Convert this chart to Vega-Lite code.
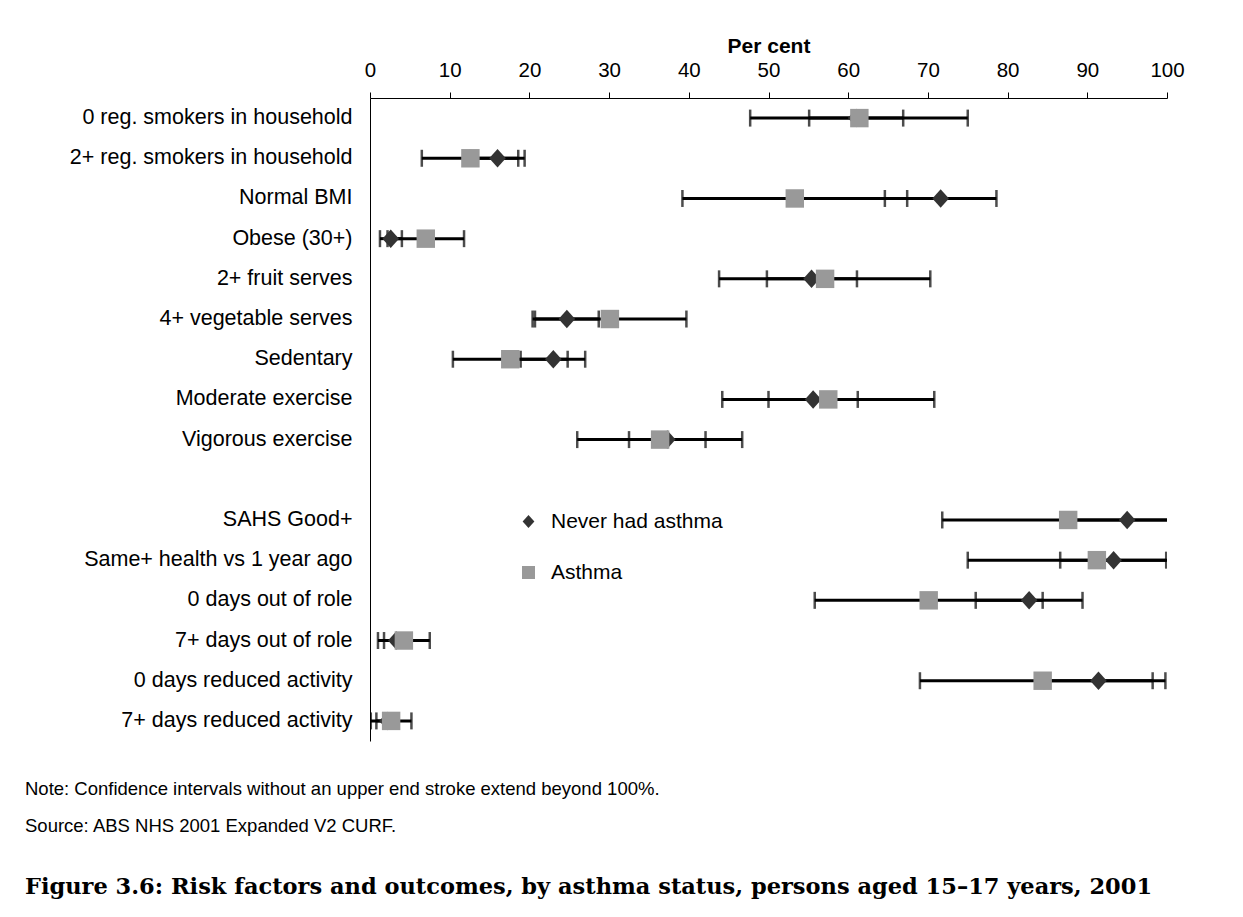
{
  "$schema": "https://vega.github.io/schema/vega-lite/v6.json",
  "width": 797,
  "height": 643,
  "autosize": {"type": "none"},
  "padding": {"left": 370, "top": 98, "right": 76, "bottom": 176},
  "background": "white",
  "config": {"font": "Liberation Sans", "view": {"stroke": null}},
  "title": {
    "text": ["Note: Confidence intervals without an upper end stroke extend beyond 100%.", "Source: ABS NHS 2001 Expanded V2 CURF."],
    "orient": "bottom",
    "anchor": "start",
    "frame": "group",
    "dx": -345,
    "offset": 39,
    "font": "Liberation Sans",
    "fontSize": 18.5,
    "fontWeight": "normal",
    "color": "black",
    "lineHeight": 37,
    "subtitle": "Figure 3.6: Risk factors and outcomes, by asthma status, persons aged 15–17 years, 2001",
    "subtitleFont": "DejaVu Serif",
    "subtitleFontWeight": "bold",
    "subtitleFontSize": 22.5,
    "subtitleColor": "black",
    "subtitlePadding": 40
  },
  "data": {
    "values": [
      {"cat": "0 reg. smokers in household", "group": "Never had asthma", "v": 61.0, "lo": 55.1, "hi": 66.9},
      {"cat": "2+ reg. smokers in household", "group": "Never had asthma", "v": 16.0, "lo": 12.6, "hi": 19.4},
      {"cat": "Normal BMI", "group": "Never had asthma", "v": 71.6, "lo": 64.6, "hi": 78.6},
      {"cat": "Obese (30+)", "group": "Never had asthma", "v": 2.6, "lo": 1.25, "hi": 4.0},
      {"cat": "2+ fruit serves", "group": "Never had asthma", "v": 55.4, "lo": 49.8, "hi": 61.1},
      {"cat": "4+ vegetable serves", "group": "Never had asthma", "v": 24.7, "lo": 20.7, "hi": 28.7},
      {"cat": "Sedentary", "group": "Never had asthma", "v": 23.0, "lo": 18.9, "hi": 27.0},
      {"cat": "Moderate exercise", "group": "Never had asthma", "v": 55.6, "lo": 50.0, "hi": 61.2},
      {"cat": "Vigorous exercise", "group": "Never had asthma", "v": 37.3, "lo": 32.5, "hi": 42.1},
      {"cat": "SAHS Good+", "group": "Never had asthma", "v": 95.0, "lo": 88.5, "hi": 101.5},
      {"cat": "Same+ health vs 1 year ago", "group": "Never had asthma", "v": 93.3, "lo": 86.6, "hi": 99.9},
      {"cat": "0 days out of role", "group": "Never had asthma", "v": 82.7, "lo": 76.0, "hi": 89.4},
      {"cat": "7+ days out of role", "group": "Never had asthma", "v": 3.3, "lo": 1.76, "hi": 4.85},
      {"cat": "0 days reduced activity", "group": "Never had asthma", "v": 91.4, "lo": 84.6, "hi": 98.2},
      {"cat": "7+ days reduced activity", "group": "Never had asthma", "v": 2.2, "lo": 0.8, "hi": 3.6},
      {"cat": "0 reg. smokers in household", "group": "Asthma", "v": 61.4, "lo": 47.7, "hi": 75.0},
      {"cat": "2+ reg. smokers in household", "group": "Asthma", "v": 12.6, "lo": 6.5, "hi": 18.6},
      {"cat": "Normal BMI", "group": "Asthma", "v": 53.3, "lo": 39.2, "hi": 67.4},
      {"cat": "Obese (30+)", "group": "Asthma", "v": 7.0, "lo": 2.2, "hi": 11.8},
      {"cat": "2+ fruit serves", "group": "Asthma", "v": 57.1, "lo": 43.8, "hi": 70.3},
      {"cat": "4+ vegetable serves", "group": "Asthma", "v": 30.1, "lo": 20.4, "hi": 39.7},
      {"cat": "Sedentary", "group": "Asthma", "v": 17.6, "lo": 10.4, "hi": 24.8},
      {"cat": "Moderate exercise", "group": "Asthma", "v": 57.5, "lo": 44.2, "hi": 70.8},
      {"cat": "Vigorous exercise", "group": "Asthma", "v": 36.4, "lo": 26.0, "hi": 46.7},
      {"cat": "SAHS Good+", "group": "Asthma", "v": 87.6, "lo": 71.8, "hi": 103.4},
      {"cat": "Same+ health vs 1 year ago", "group": "Asthma", "v": 91.2, "lo": 75.0, "hi": 107.4},
      {"cat": "0 days out of role", "group": "Asthma", "v": 70.1, "lo": 55.8, "hi": 84.4},
      {"cat": "7+ days out of role", "group": "Asthma", "v": 4.25, "lo": 1.0, "hi": 7.5},
      {"cat": "0 days reduced activity", "group": "Asthma", "v": 84.4, "lo": 69.0, "hi": 99.8},
      {"cat": "7+ days reduced activity", "group": "Asthma", "v": 2.65, "lo": 0.1, "hi": 5.2}
    ]
  },
  "encoding": {
    "y": {
      "field": "cat",
      "type": "nominal",
      "scale": {
        "type": "band",
        "domain": ["0 reg. smokers in household", "2+ reg. smokers in household", "Normal BMI", "Obese (30+)", "2+ fruit serves", "4+ vegetable serves", "Sedentary", "Moderate exercise", "Vigorous exercise", " ", "SAHS Good+", "Same+ health vs 1 year ago", "0 days out of role", "7+ days out of role", "0 days reduced activity", "7+ days reduced activity"],
        "paddingInner": 0,
        "paddingOuter": 0
      },
      "axis": {"title": null, "ticks": false, "domainColor": "black", "domainWidth": 1, "labelFontSize": 21.5, "labelColor": "black", "labelPadding": 18, "labelLimit": 400}
    }
  },
  "layer": [
    {
      "mark": {"type": "rule", "color": "black", "strokeWidth": 3, "clip": true},
      "encoding": {
        "x": {"field": "lo", "type": "quantitative", "title": "Per cent", "scale": {"domain": [0, 100], "nice": false},
          "axis": {"orient": "top", "values": [0, 10, 20, 30, 40, 50, 60, 70, 80, 90, 100], "grid": false, "domainColor": "black", "domainWidth": 1, "tickColor": "black", "tickSize": 6, "tickWidth": 1, "labelFontSize": 20.5, "labelColor": "black", "labelPadding": 12, "labelFlush": false, "titleFontSize": 21, "titleFontWeight": "bold", "titleColor": "black", "titlePadding": 4}},
        "x2": {"field": "hi"}
      }
    },
    {
      "mark": {"type": "tick", "color": "black", "thickness": 2.5, "size": 17, "orient": "vertical", "clip": true},
      "encoding": {
        "x": {"field": "lo", "type": "quantitative", "title": "Per cent",
          "axis": {"orient": "top", "values": [0, 10, 20, 30, 40, 50, 60, 70, 80, 90, 100], "grid": false, "domainColor": "black", "domainWidth": 1, "tickColor": "black", "tickSize": 6, "tickWidth": 1, "labelFontSize": 20.5, "labelColor": "black", "labelPadding": 12, "labelFlush": false, "titleFontSize": 21, "titleFontWeight": "bold", "titleColor": "black", "titlePadding": 4}}
      }
    },
    {
      "mark": {"type": "tick", "color": "black", "thickness": 2.5, "size": 17, "orient": "vertical", "clip": true},
      "encoding": {
        "x": {"field": "hi", "type": "quantitative", "title": "Per cent",
          "axis": {"orient": "top", "values": [0, 10, 20, 30, 40, 50, 60, 70, 80, 90, 100], "grid": false, "domainColor": "black", "domainWidth": 1, "tickColor": "black", "tickSize": 6, "tickWidth": 1, "labelFontSize": 20.5, "labelColor": "black", "labelPadding": 12, "labelFlush": false, "titleFontSize": 21, "titleFontWeight": "bold", "titleColor": "black", "titlePadding": 4}}
      }
    },
    {
      "mark": {"type": "point", "filled": true, "size": 340, "opacity": 1, "strokeWidth": 0},
      "encoding": {
        "x": {"field": "v", "type": "quantitative", "title": "Per cent",
          "axis": {"orient": "top", "values": [0, 10, 20, 30, 40, 50, 60, 70, 80, 90, 100], "grid": false, "domainColor": "black", "domainWidth": 1, "tickColor": "black", "tickSize": 6, "tickWidth": 1, "labelFontSize": 20.5, "labelColor": "black", "labelPadding": 12, "labelFlush": false, "titleFontSize": 21, "titleFontWeight": "bold", "titleColor": "black", "titlePadding": 4}},
        "shape": {"field": "group", "type": "nominal",
          "scale": {"domain": ["Never had asthma", "Asthma"], "range": ["M-0.9,0L0,-1L0.9,0L0,1Z", "square"]},
          "legend": {"title": null, "orient": "none", "legendX": 148, "legendY": 413, "padding": 0, "labelFontSize": 21, "labelColor": "black", "labelLimit": 400, "symbolSize": 170, "rowPadding": 29, "labelOffset": 12, "symbolStrokeWidth": 0}},
        "color": {"field": "group", "type": "nominal",
          "scale": {"domain": ["Never had asthma", "Asthma"], "range": ["#333333", "#999999"]},
          "legend": {"title": null, "orient": "none", "legendX": 148, "legendY": 413, "padding": 0, "labelFontSize": 21, "labelColor": "black", "labelLimit": 400, "symbolSize": 170, "rowPadding": 29, "labelOffset": 12, "symbolStrokeWidth": 0}}
      }
    }
  ]
}
